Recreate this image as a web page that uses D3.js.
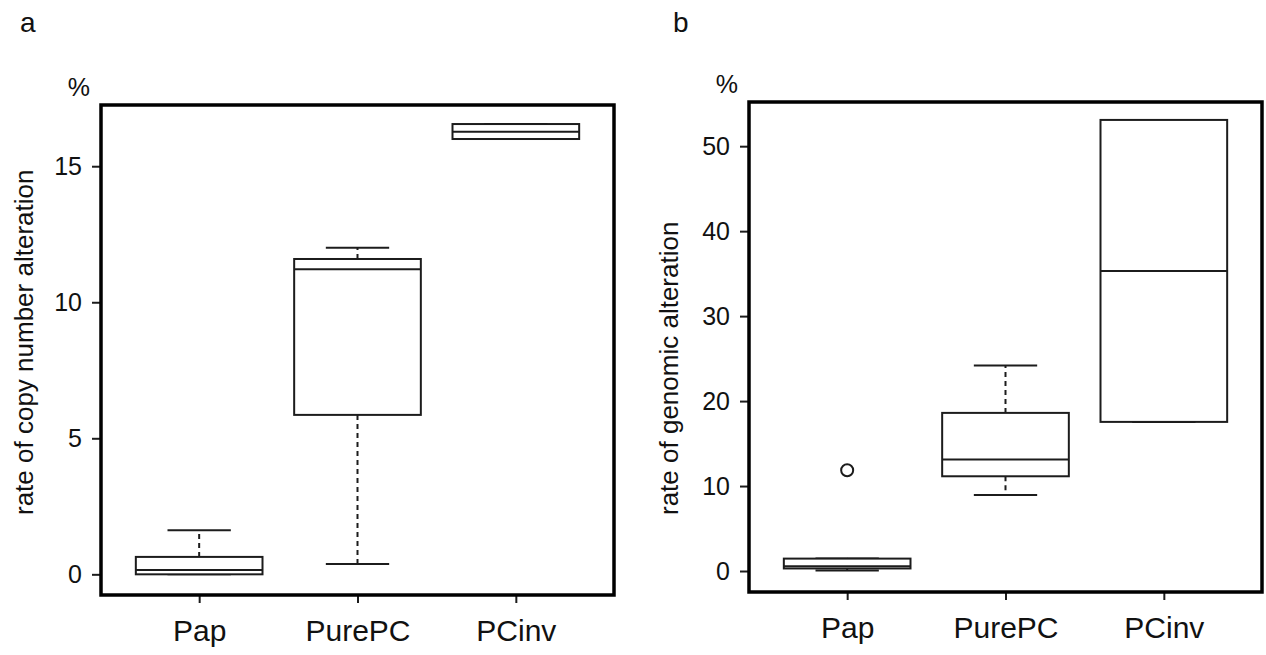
<!DOCTYPE html>
<html>
<head>
<meta charset="utf-8">
<script src="https://cdn.jsdelivr.net/npm/d3@7"></script>
<style>
	body { margin: 0; background: #fff; }
	svg { display: block; font-family: "Liberation Sans", Arial, sans-serif; }
	.tick text { fill: #111; }
</style>
</head>
<body>
<div id="chart"></div>
<script>
var categories = ['Pap', 'PurePC', 'PCinv'];

// a: rate of copy number alteration (%)
var cnaLower   = [0,    0.38,  16.0];
var cnaQ1      = [0,    5.86,  16.0];
var cnaMedian  = [0.16, 11.21, 16.27];
var cnaQ3      = [0.64, 11.59, 16.55];
var cnaUpper   = [1.62, 12.0,  16.55];
var cnaOutliers = [[], [], []];
var cnaTicks = [0, 5, 10, 15];

// b: rate of genomic alteration (%)
var genLower   = [0.05, 8.95,  17.55];
var genQ1      = [0.3,  11.15, 17.55];
var genMedian  = [0.55, 13.12, 35.3];
var genQ3      = [1.46, 18.61, 53.09];
var genUpper   = [1.46, 24.19, 53.09];
var genOutliers = [[11.86], [], []];
var genTicks = [0, 10, 20, 30, 40, 50];

var width = 1266;
var height = 655;

var svg = d3.select('#chart')
	.append('svg')
	.attr('width', width)
	.attr('height', height);

svg.append('rect')
	.attr('width', width)
	.attr('height', height)
	.attr('fill', '#fff');

function buildRows(lower, q1, median, q3, upper, outliers){
	return categories.map(function(c, i){
		return {label: c, pos: i + 1, lower: lower[i], q1: q1[i], median: median[i],
			q3: q3[i], upper: upper[i], outliers: outliers[i]};
	});
}

function drawPanel(opts){
	var rows = opts.rows;
	var x = d3.scaleLinear()
		.domain([0.38, categories.length + 0.62])
		.range([opts.left, opts.right]);
	var y = d3.scaleLinear()
		.domain(opts.domain)
		.range([opts.bottom, opts.top]);
	var boxHalf = x(1.4) - x(1);
	var capHalf = x(1.2) - x(1);
	var ink = '#1c1c1c';

	var g = svg.append('g');

	// panel letter and unit
	g.append('text')
		.attr('x', opts.letterX)
		.attr('y', 32)
		.attr('font-size', 28)
		.attr('fill', '#111')
		.text(opts.letter);

	g.append('text')
		.attr('x', opts.left - 11)
		.attr('y', opts.top - 9)
		.attr('text-anchor', 'end')
		.attr('font-size', 25)
		.attr('fill', '#111')
		.text('%');

	g.append('text')
		.attr('transform', 'translate(' + opts.ylabX + ',515) rotate(-90)')
		.attr('font-size', 26)
		.attr('fill', '#111')
		.text(opts.ylab);

	// axes
	var yAxis = g.append('g')
		.attr('transform', 'translate(' + opts.left + ',0)')
		.call(d3.axisLeft(y).tickValues(opts.ticks).tickSize(9).tickPadding(10));
	yAxis.select('.domain').remove();
	yAxis.selectAll('.tick line').attr('stroke', ink).attr('stroke-width', 2);
	yAxis.selectAll('.tick text').attr('font-size', 25).attr('font-family', null);

	var xAxis = g.append('g')
		.attr('transform', 'translate(0,' + opts.bottom + ')')
		.call(d3.axisBottom(x).tickValues(rows.map(function(d){ return d.pos; }))
			.tickFormat(function(d){ return categories[d - 1]; })
			.tickSize(8).tickPadding(17));
	xAxis.select('.domain').remove();
	xAxis.selectAll('.tick line').attr('stroke', ink).attr('stroke-width', 2);
	xAxis.selectAll('.tick text').attr('font-size', 30).attr('font-family', null);

	// boxes
	var box = g.selectAll('.box')
		.data(rows)
		.enter()
		.append('g')
		.attr('class', 'box')
		.attr('fill', 'none')
		.attr('stroke', ink)
		.attr('stroke-width', 2);

	// whiskers, dashed
	box.append('line')
		.attr('x1', function(d){ return x(d.pos); })
		.attr('x2', function(d){ return x(d.pos); })
		.attr('y1', function(d){ return y(d.q3); })
		.attr('y2', function(d){ return y(d.upper); })
		.attr('stroke-dasharray', '5,4');
	box.append('line')
		.attr('x1', function(d){ return x(d.pos); })
		.attr('x2', function(d){ return x(d.pos); })
		.attr('y1', function(d){ return y(d.q1); })
		.attr('y2', function(d){ return y(d.lower); })
		.attr('stroke-dasharray', '5,4');

	// staples
	['upper', 'lower'].forEach(function(k){
		box.append('line')
			.attr('x1', function(d){ return x(d.pos) - capHalf; })
			.attr('x2', function(d){ return x(d.pos) + capHalf; })
			.attr('y1', function(d){ return y(d[k]); })
			.attr('y2', function(d){ return y(d[k]); });
	});

	box.append('rect')
		.attr('x', function(d){ return x(d.pos) - boxHalf; })
		.attr('width', boxHalf * 2)
		.attr('y', function(d){ return y(d.q3); })
		.attr('height', function(d){ return y(d.q1) - y(d.q3); })
		.attr('fill', '#fff');

	box.append('line')
		.attr('x1', function(d){ return x(d.pos) - boxHalf; })
		.attr('x2', function(d){ return x(d.pos) + boxHalf; })
		.attr('y1', function(d){ return y(d.median); })
		.attr('y2', function(d){ return y(d.median); });

	box.selectAll('circle')
		.data(function(d){ return d.outliers.map(function(v){ return {pos: d.pos, v: v}; }); })
		.enter()
		.append('circle')
		.attr('cx', function(d){ return x(d.pos); })
		.attr('cy', function(d){ return y(d.v); })
		.attr('r', 6);

	// frame
	g.append('rect')
		.attr('x', opts.left)
		.attr('y', opts.top)
		.attr('width', opts.right - opts.left)
		.attr('height', opts.bottom - opts.top)
		.attr('fill', 'none')
		.attr('stroke', '#000')
		.attr('stroke-width', 3.5);
}

drawPanel({
	rows: buildRows(cnaLower, cnaQ1, cnaMedian, cnaQ3, cnaUpper, cnaOutliers),
	ticks: cnaTicks,
	domain: [-0.76, 17.25],
	left: 101, right: 614, top: 105, bottom: 595,
	letter: 'a', letterX: 20,
	ylab: 'rate of copy number alteration', ylabX: 33
});

drawPanel({
	rows: buildRows(genLower, genQ1, genMedian, genQ3, genUpper, genOutliers),
	ticks: genTicks,
	domain: [-2.47, 55.2],
	left: 749, right: 1262, top: 102, bottom: 592,
	letter: 'b', letterX: 673,
	ylab: 'rate of genomic alteration', ylabX: 678
});
</script>
</body>
</html>
